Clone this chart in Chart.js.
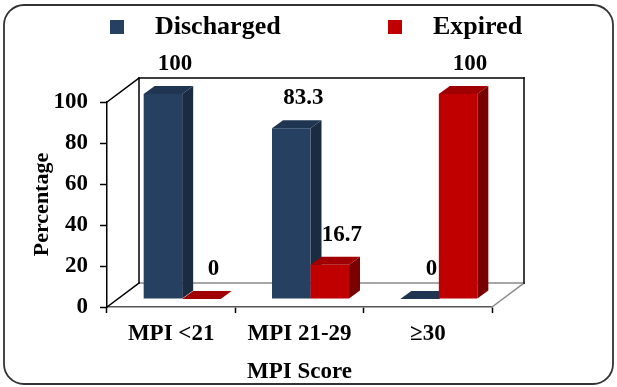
<!DOCTYPE html>
<html><head><meta charset="utf-8">
<script src="https://cdn.jsdelivr.net/npm/chart.js@4"></script>
<style>html,body{margin:0;padding:0;background:#fff}canvas{display:block}</style>
</head><body>
<canvas id="c" width="617" height="387"></canvas>
<script>
const categories = ['MPI <21', 'MPI 21-29', '\u226530'];
const discharged = [100, 83.3, 0];
const expired = [0, 16.7, 100];
const seriesNames = ['Discharged', 'Expired'];
const yTickValues = [0, 20, 40, 60, 80, 100];
const xTitle = 'MPI Score';
const yTitle = 'Percentage';

const FONT = '"Liberation Serif", "Times New Roman", serif';
const faces = [
  {front: '#254061', side: '#1a2b42', top: '#1f3552'},
  {front: '#c00000', side: '#7a0000', top: '#a00000'}
];
const BD = {x: 11, y: -8};      // bar depth step
const WD = {x: 32, y: -24};     // wall depth

function poly(ctx, pts, fill) {
  ctx.beginPath();
  ctx.moveTo(pts[0][0], pts[0][1]);
  for (let i = 1; i < pts.length; i++) ctx.lineTo(pts[i][0], pts[i][1]);
  ctx.closePath();
  ctx.fillStyle = fill;
  ctx.fill();
}
function line(ctx, x1, y1, x2, y2, color, w) {
  ctx.beginPath();
  ctx.moveTo(x1, y1); ctx.lineTo(x2, y2);
  ctx.strokeStyle = color; ctx.lineWidth = w; ctx.stroke();
}

const threeD = {
  id: 'threeD',
  beforeDraw(chart) {
    const ctx = chart.ctx;
    ctx.save();
    ctx.fillStyle = '#fff';
    ctx.fillRect(0, 0, chart.width, chart.height);
    ctx.beginPath();
    ctx.roundRect(4, 5, 609, 379, 20);
    ctx.strokeStyle = '#333';
    ctx.lineWidth = 1.8;
    ctx.stroke();
    // legend
    ctx.font = 'bold 26px ' + FONT;
    ctx.textBaseline = 'middle';
    ctx.textAlign = 'left';
    const legendPos = [[110, 155], [388, 433]];
    chart.data.datasets.forEach((ds, i) => {
      ctx.fillStyle = faces[i].front;
      ctx.fillRect(legendPos[i][0], 20, 14, 14);
      ctx.fillStyle = '#000';
      ctx.fillText(ds.label, legendPos[i][1], 27);
    });
    ctx.restore();
  },
  beforeDatasetsDraw(chart) {
    const ctx = chart.ctx;
    const {left, right, top, bottom} = chart.chartArea;
    ctx.save();
    ctx.lineCap = 'square';
    // back wall & floor
    line(ctx, left + WD.x, bottom + WD.y, right + WD.x, bottom + WD.y, '#8a8a8a', 1.5);
    line(ctx, right, bottom, right + WD.x, bottom + WD.y, '#8a8a8a', 1.5);
    line(ctx, left, bottom, left + WD.x, bottom + WD.y, '#000', 1.5);
    line(ctx, left, top, left + WD.x, top + WD.y, '#000', 1.5);
    line(ctx, left + WD.x, top + WD.y, right + WD.x, top + WD.y, '#000', 1.5);
    line(ctx, left + WD.x, top + WD.y, left + WD.x, bottom + WD.y, '#000', 1.5);
    line(ctx, right + WD.x, top + WD.y, right + WD.x, bottom + WD.y, '#000', 1.5);
    // bars
    const metas = chart.data.datasets.map((d, i) => chart.getDatasetMeta(i));
    for (let c = 0; c < categories.length; c++) {
      metas.forEach((meta, d) => {
        const el = meta.data[c];
        const xl = el.x - el.width / 2 + BD.x, xr = el.x + el.width / 2 + BD.x;
        const yt = el.y + BD.y, yb = el.base + BD.y;
        const f = faces[d];
        poly(ctx, [[xr, yt], [xr + BD.x, yt + BD.y], [xr + BD.x, yb + BD.y], [xr, yb]], f.side);
        poly(ctx, [[xl, yt], [xl + BD.x, yt + BD.y], [xr + BD.x, yt + BD.y], [xr, yt]], f.top);
        if (yb - yt > 0.5) {
          ctx.fillStyle = f.front;
          ctx.fillRect(xl, yt, xr - xl, yb - yt);
        }
      });
    }
    // data labels
    ctx.font = 'bold 23px ' + FONT;
    ctx.fillStyle = '#000';
    ctx.textAlign = 'center';
    ctx.textBaseline = 'middle';
    metas.forEach((meta, d) => {
      meta.data.forEach((el, c) => {
        const v = chart.data.datasets[d].data[c];
        ctx.fillText(String(v), el.x + BD.x + 12, el.y + 2 * BD.y - 22);
      });
    });
    ctx.restore();
    return false;
  }
};

new Chart(document.getElementById('c'), {
  type: 'bar',
  data: {
    labels: categories,
    datasets: [
      {label: seriesNames[0], data: discharged, backgroundColor: faces[0].front},
      {label: seriesNames[1], data: expired, backgroundColor: faces[1].front}
    ]
  },
  options: {
    responsive: false,
    animation: false,
    layout: {padding: {top: 102, right: 125, left: 0, bottom: 0}},
    categoryPercentage: 0.6,
    barPercentage: 1,
    plugins: {legend: {display: false}, tooltip: {enabled: false}},
    scales: {
      x: {
        offset: true,
        grid: {display: true, drawOnChartArea: false, offset: true, tickLength: 6, tickColor: '#000', tickWidth: 1.5},
        border: {color: '#555', width: 1.5},
        ticks: {color: '#000', padding: 7, font: {family: FONT, size: 23, weight: 'bold'}},
        title: {display: true, text: xTitle, color: '#000', padding: {top: 0, bottom: 1}, font: {family: FONT, size: 23, weight: 'bold'}},
        afterFit(s) { s.height = 80; }
      },
      y: {
        min: 0, max: 100,
        afterBuildTicks(s) { s.ticks = yTickValues.map(v => ({value: v})); },
        grid: {display: true, drawOnChartArea: false, tickLength: 7, tickColor: '#000', tickWidth: 1.5},
        border: {color: '#000', width: 1.5},
        ticks: {color: '#000', padding: 12, font: {family: FONT, size: 23, weight: 'bold'}},
        title: {display: true, text: yTitle, color: '#000', padding: {top: 29, bottom: 0}, font: {family: FONT, size: 22, weight: 'bold'}},
        afterFit(s) { s.width = 107; }
      }
    }
  },
  plugins: [threeD]
});
</script>
</body></html>
